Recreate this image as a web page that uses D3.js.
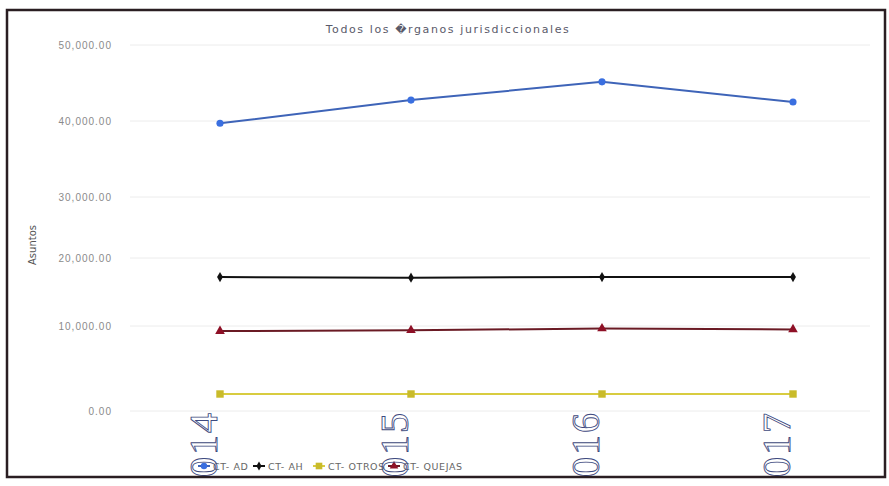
<!DOCTYPE html>
<html><head><meta charset="utf-8">
<script src="https://cdn.jsdelivr.net/npm/d3@7"></script>
<style>body{margin:0;background:#fff}svg{display:block}</style>
</head><body>
<script>
const years = ["2014","2015","2016","2017"];
const ctAD = [39700, 42750, 45150, 42500];
const ctAH = [17200, 17100, 17200, 17200];
const ctOTROS = [2000, 2000, 2000, 2000];
const ctQUEJAS = [9400, 9500, 9700, 9600];
const yTicks = [0, 10000, 20000, 30000, 40000, 50000];
const seriesNames = ["CT- AD", "CT- AH", "CT- OTROS", "CT- QUEJAS"];
const title = "Todos los \uFFFDrganos jurisdiccionales";

const W = 889, H = 486;
const svg = d3.select("body").append("svg").attr("width", W).attr("height", H);

svg.append("defs").append("clipPath").attr("id","frame")
  .append("rect").attr("x",7).attr("y",10).attr("width",878).attr("height",467);

const g = svg.append("g").attr("clip-path","url(#frame)");

const x = d3.scalePoint().domain(years).range([220, 793]);
// photographed chart: gridlines not evenly spaced, follow them piecewise
const y = d3.scaleLinear().domain(yTicks).range([411, 326, 258, 197, 121, 45]);

// gridlines
g.append("g").selectAll("line").data(yTicks).join("line")
  .attr("x1",130).attr("x2",870)
  .attr("y1",d=>y(d)).attr("y2",d=>y(d))
  .attr("stroke","#ececec").attr("stroke-width",1);

// y axis labels
const fmt = d3.format(",.2f");
g.append("g").selectAll("text").data(yTicks).join("text")
  .attr("x",112).attr("y",d=>y(d)+4)
  .attr("text-anchor","end")
  .attr("font-family","Liberation Sans, sans-serif")
  .attr("font-size",10).attr("letter-spacing",1)
  .attr("fill","#8a8a8a")
  .text(d=>fmt(d));

// title
g.append("text").attr("x",448).attr("y",33).attr("text-anchor","middle")
  .attr("font-family","DejaVu Sans, sans-serif").attr("font-size",11)
  .attr("letter-spacing",1.6).attr("fill","#5a5a6a").text(title);

// y axis title
g.append("text").attr("transform","translate(36,245) rotate(-90)")
  .attr("text-anchor","middle")
  .attr("font-family","DejaVu Sans, sans-serif").attr("font-size",10)
  .attr("fill","#555").text("Asuntos");

const series = [
  {name: seriesNames[0], values: ctAD, line:"#3e64b8", mark:"#3a6fe0", shape:d3.symbolCircle, size:40},
  {name: seriesNames[1], values: ctAH, line:"#111111", mark:"#111111", shape:d3.symbolDiamond, size:30},
  {name: seriesNames[2], values: ctOTROS, line:"#d8cc40", mark:"#c9bb2a", shape:d3.symbolSquare, size:55},
  {name: seriesNames[3], values: ctQUEJAS, line:"#6a1a24", mark:"#8e1026", shape:d3.symbolTriangle, size:40}
];

const line = d3.line().x((d,i)=>x(years[i])).y(d=>y(d));
series.forEach(s=>{
  g.append("path").datum(s.values).attr("d",line)
    .attr("fill","none").attr("stroke",s.line).attr("stroke-width",2);
  g.append("g").selectAll("path").data(s.values).join("path")
    .attr("transform",(d,i)=>`translate(${x(years[i])},${y(d)})`)
    .attr("d",d3.symbol().type(s.shape).size(s.size))
    .attr("fill",s.mark);
});

// legend
const legendX = [198, 253, 313, 388];
const lg = g.append("g");
series.forEach((s,i)=>{
  const lx = legendX[i], ly = 466;
  lg.append("line").attr("x1",lx).attr("x2",lx+12).attr("y1",ly).attr("y2",ly)
    .attr("stroke",s.line).attr("stroke-width",2);
  lg.append("path").attr("transform",`translate(${lx+6},${ly})`)
    .attr("d",d3.symbol().type(s.shape).size(s.size*0.8)).attr("fill",s.mark);
  lg.append("text").attr("x",lx+15).attr("y",ly+4)
    .attr("font-family","DejaVu Sans, sans-serif").attr("font-size",9.5)
    .attr("letter-spacing",0.6).attr("fill","#666").text(s.name);
});

// big rotated year labels (cut by the frame, as in the photographed original)
g.append("g").selectAll("text").data(years).join("text")
  .attr("transform",d=>`translate(${x(d)-3},411) rotate(-90)`)
  .attr("text-anchor","end")
  .attr("font-family","Liberation Serif, serif").attr("font-size",40)
  .attr("letter-spacing",2)
  .attr("fill","none").attr("stroke","#3e4a80").attr("stroke-width",0.9)
  .text(d=>d);

// frame
svg.append("rect").attr("x",7).attr("y",10).attr("width",878).attr("height",467)
  .attr("fill","none").attr("stroke","#2a1e22").attr("stroke-width",2.5);
</script>
</body></html>
